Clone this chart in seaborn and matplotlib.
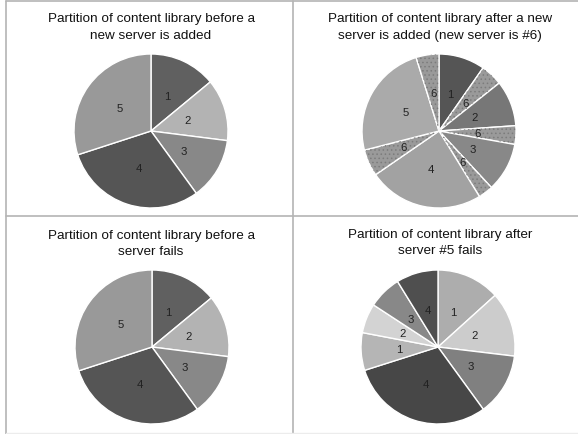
import matplotlib
matplotlib.use("Agg")
import matplotlib.pyplot as plt
from matplotlib.lines import Line2D
from matplotlib.patches import Wedge
import seaborn as sns

# --- data ---
before_labels = ["1", "2", "3", "4", "5"]
before_sizes = [14, 13, 13, 30, 30]
before_colors = ["#606060", "#b3b3b3", "#888888", "#555555", "#999999"]

added_labels = ["1", "6", "2", "6", "3", "6", "4", "6", "5", "6"]
added_sizes = [9.7, 4.6, 9.6, 3.9, 10.3, 3.1, 24.2, 5.6, 24.2, 4.8]
added_colors = ["#555555", "#9a9a9a", "#777777", "#9a9a9a", "#888888",
                "#9a9a9a", "#a2a2a2", "#9a9a9a", "#aaaaaa", "#9a9a9a"]

failed_labels = ["1", "2", "3", "4", "1", "2", "3", "4"]
failed_sizes = [13.3, 13.6, 13.1, 30.1, 7.9, 6.2, 7.0, 8.8]
failed_colors = ["#adadad", "#cccccc", "#808080", "#474747",
                 "#b5b5b5", "#d3d3d3", "#888888", "#4f4f4f"]

titles = ["Partition of content library before a\nnew server is added",
          "Partition of content library after a new\nserver is added (new server is #6)",
          "Partition of content library before a\nserver fails",
          "Partition of content library after\nserver #5 fails"]

sns.set_style("white")
plt.rcParams["font.family"] = ["Liberation Sans", "DejaVu Sans"]
plt.rcParams["hatch.linewidth"] = 0.6

W, H = 578, 435
fig = plt.figure(figsize=(W / 100, H / 100), dpi=100)


def pie_axes(cx, cy, r=77):
    return fig.add_axes([(cx - r) / W, 1 - (cy + r) / H, 2 * r / W, 2 * r / H])


def draw_pie(ax, sizes, labels, colors, hatch_label=None):
    wedges, texts = ax.pie(sizes, labels=labels, colors=colors, startangle=90,
                           counterclock=False, labeldistance=0.5, radius=1,
                           wedgeprops=dict(edgecolor="white", linewidth=1.0),
                           textprops=dict(fontsize=8.2, color="#222222"))
    for t in texts:
        t.set_ha("center")
        t.set_va("center")
        t.set_zorder(5)
    if hatch_label is not None:
        for w, lab in zip(wedges, labels):
            if lab == hatch_label:
                ax.add_patch(Wedge(w.center, w.r * 0.995, w.theta1 + 0.4, w.theta2 - 0.4,
                                   facecolor="none", edgecolor="#7c7c7c",
                                   linewidth=0, hatch="....", zorder=w.get_zorder() + 0.1))
    ax.set_xlim(-1, 1)
    ax.set_ylim(-1, 1)
    ax.axis("off")


ax1 = pie_axes(151, 132)
draw_pie(ax1, before_sizes, before_labels, before_colors)
ax2 = pie_axes(439, 132)
draw_pie(ax2, added_sizes, added_labels, added_colors, hatch_label="6")
ax3 = pie_axes(152, 348)
draw_pie(ax3, before_sizes, before_labels, before_colors)
ax4 = pie_axes(438, 348)
draw_pie(ax4, failed_sizes, failed_labels, failed_colors)

title_pos = [(151, 27.5), (440, 27.5), (151, 244), (440, 243)]
for (x, y), t in zip(title_pos, titles):
    fig.text(x / W, 1 - y / H, t, ha="center", va="center", fontsize=9.7,
             color="#111111", linespacing=1.45)

# panel frame lines
line_kw = dict(color="#b4b4b4", linewidth=1.2, transform=fig.transFigure)
fig.add_artist(Line2D([6 / W, 6 / W], [0, 1 - 1.5 / H], **line_kw))
fig.add_artist(Line2D([6 / W, 1], [1 - 1.5 / H, 1 - 1.5 / H], **line_kw))
fig.add_artist(Line2D([293 / W, 293 / W], [0, 1 - 1.5 / H], **line_kw))
fig.add_artist(Line2D([6 / W, 1], [1 - 217 / H, 1 - 217 / H], **line_kw))
fig.add_artist(Line2D([6 / W, 1], [1 - 433.5 / H, 1 - 433.5 / H],
                      color="#ececec", linewidth=1.0, transform=fig.transFigure))

fig.savefig("out.png", dpi=100, facecolor="white")
